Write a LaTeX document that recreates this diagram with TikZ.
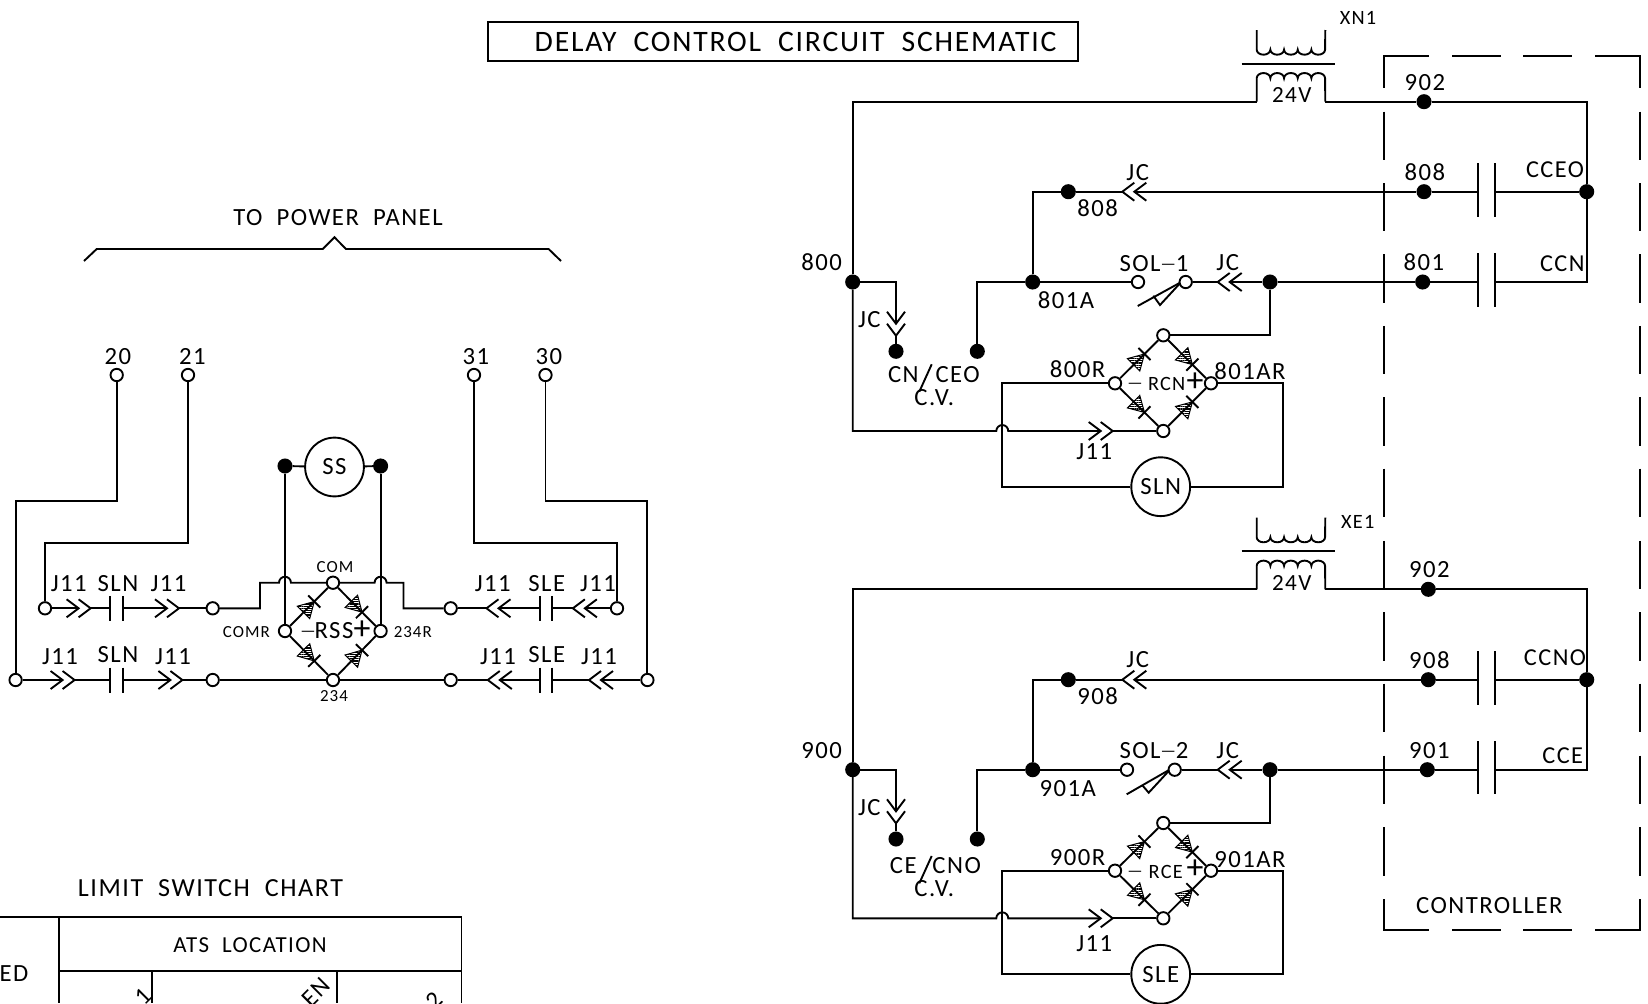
\documentclass[tikz,border=0pt]{standalone}
\usepackage{fontspec}
\usepackage{amsmath}
\setmainfont{Carlito}[LetterSpace=6]
\usetikzlibrary{calc,patterns.meta}

\tikzset{
    lbl/.style={inner sep=0pt, font=\fontsize{12.4}{12.4}\selectfont},
    lblsm/.style={inner sep=0pt, font=\fontsize{10.2}{10.2}\selectfont},
    lblxs/.style={inner sep=0pt, font=\fontsize{8.5}{8.5}\selectfont},
    lblbig/.style={inner sep=0pt, font=\fontsize{14.9}{14.9}\selectfont},
    lblmid/.style={inner sep=0pt, font=\fontsize{11.6}{11.6}\selectfont},
    lblplus/.style={inner sep=0pt, font=\fontsize{17}{17}\selectfont},
    term/.style={circle, draw, fill=white, inner sep=0pt, minimum size=6.2pt},
    junct/.style={circle, draw, fill=black, inner sep=0pt, minimum size=6.6pt},
    meter/.style={circle, draw, inner sep=0pt, minimum size=29.5pt, font=\fontsize{12.4}{12.4}\selectfont},
}

\newcommand{\longdash}{\raisebox{1pt}{\fontsize{8.5}{8.5}\selectfont---}}

% double chevron, tip at the given point
\newcommand{\chevs}[4]{
    \begin{scope}[shift={(#2,#3)}, rotate=#4]
        \draw (-24,-9) -- (-12,0) -- (-24,9);
        \draw (-12,-9) -- (0,0) -- (-12,9);
        \coordinate (#1-in) at (-12,0);
        \coordinate (#1-out) at (0,0);
    \end{scope}
}
% contact bars
\newcommand{\capbars}[6]{
    \coordinate (#1-a) at (#2,#4);
    \coordinate (#1-b) at (#3,#4);
    \draw (#2,#4-#5) -- (#2,#4+#6);
    \draw (#3,#4-#5) -- (#3,#4+#6);
}
% diode on one side of a bridge
\newcommand{\bridgediode}[2]{
    \draw (#1) -- (#2);
    \draw[line width=0.5pt, pattern={Lines[angle=0,distance=1.1pt,line width=0.6pt]}] ($(#1)!0.61!(#2)$) -- ($(#1)!0.385!(#2)!4.4pt!90:(#2)$) -- ($(#1)!0.385!(#2)!4.4pt!-90:(#2)$) -- cycle;
    \draw ($(#1)!0.61!(#2)!4.3pt!90:(#2)$) -- ($(#1)!0.61!(#2)!4.3pt!-90:(#2)$);
}
\newcommand{\bridge}[1]{
    \bridgediode{#1-l}{#1-t}
    \bridgediode{#1-t}{#1-r}
    \bridgediode{#1-l}{#1-b}
    \bridgediode{#1-b}{#1-r}
}
% transformer, left foot of the winding at the given point
\newcommand{\xfmr}[3]{
    \coordinate (#1-a) at (#2,#3);
    \coordinate (#1-b) at (#2+68.6,#3);
    \begin{scope}[shift={(#2,#3)}]
        \draw (0,-71.7) -- (0,-52)
            \foreach \i in {1,...,5} {arc[start angle=180, end angle=360, x radius=3.43pt, y radius=2.5pt]}
            -- (68.6,-71.7);
        \draw (-15,-38) -- (78.4,-38);
        \draw (0,0) -- (0,-23.5)
            \foreach \i in {1,...,5} {arc[start angle=180, end angle=0, x radius=3.43pt, y radius=2.6pt]}
            -- (68.6,0);
    \end{scope}
}

\begin{document}
\begin{tikzpicture}[x=0.5bp, y=-0.5bp, line width=0.95pt]
    \useasboundingbox (0,0) rectangle (1648,1003);

    % title
    \node[draw, minimum width=296.5pt, minimum height=19.5pt, inner sep=0pt] (titlebox) at (783,41.5) {};
    \node[lblbig] (titletext) at (795.6,42) {DELAY\ \ CONTROL\ \ CIRCUIT\ \ SCHEMATIC};

    % power panel
    \node[lbl] (lbpanel) at (338,217.6) {TO\ \ POWER\ \ PANEL};
    \draw (84,261) -- (96.7,249) -- (322.7,249) -- (334.5,237.3) -- (346,249) -- (548.6,249) -- (561,261);
    \node[lbl] (lb20) at (117.8,356.7) {20};
    \node[lbl] (lb21) at (192.5,356.7) {21};
    \node[lbl] (lb31) at (476,356.7) {31};
    \node[lbl] (lb30) at (549,356.7) {30};
    \node[term] (t20) at (116.7,375) {};
    \node[term] (t21) at (188,375) {};
    \node[term] (t31) at (474,375) {};
    \node[term] (t30) at (545.5,375) {};

    % selector terminals
    \node[term] (tl1) at (45,608.3) {};
    \node[term] (tl2) at (15.6,680) {};
    \node[term] (tr1) at (617,608.3) {};
    \node[term] (tr2) at (647.4,680) {};
    \node[term] (tm1) at (212.7,608.3) {};
    \node[term] (tm2) at (450.7,608.3) {};
    \node[term] (tm3) at (212.7,680) {};
    \node[term] (tm4) at (450.7,680) {};
    \coordinate (k20) at (116.7,500.7);
    \coordinate (k21) at (188,542.7);
    \coordinate (k31) at (474,542.7);
    \coordinate (k30) at (545.5,500.7);
    \draw (t20) -- (k20) -| (tl2);
    \draw (t21) -- (k21) -| (tl1);
    \draw (t31) -- (k31) -| (tr1);
    \draw (t30) -- (k30) -| (tr2);

    % RSS bridge
    \node[term] (rss-t) at (333,582.7) {};
    \node[term] (rss-b) at (333,680) {};
    \node[term] (rss-l) at (285,631) {};
    \node[term] (rss-r) at (380.6,631) {};
    \bridge{rss}
    \node[meter] (ss) at (334.5,467) {SS};
    \node[junct] (dss1) at (285,466) {};
    \node[junct] (dss2) at (380.6,466) {};
    \draw (dss1) -- (ss);
    \draw (ss) -- (dss2);
    \draw (dss1) -- (rss-l);
    \draw (dss2) -- (rss-r);

    % upper row
    \chevs{ca}{90.6}{608.3}{0}
    \capbars{c1}{110.4}{123}{608.3}{12.5}{12.5}
    \chevs{cb}{179}{608.3}{0}
    \chevs{cc}{486.5}{608.3}{180}
    \capbars{c2}{540.4}{551.8}{608.3}{12.5}{12.5}
    \chevs{cd}{572.9}{608.3}{180}
    \draw (tl1) -- (ca-in);
    \draw (ca-out) -- (c1-a);
    \draw (c1-b) -- (cb-in);
    \draw (cb-out) -- (tm1);
    \coordinate (hk1) at (260,608.3);
    \coordinate (hk2) at (260,582.7);
    \coordinate (hk3) at (279,582.7);
    \coordinate (hk4) at (374.6,582.7);
    \coordinate (hk5) at (403.5,582.7);
    \coordinate (hk6) at (403.5,608.3);
    \draw (tm1) -- (hk1) -- (hk2) -- (hk3) arc[start angle=180, end angle=0, radius=3pt] -- (rss-t);
    \draw (rss-t) -- (hk4) arc[start angle=180, end angle=0, radius=3pt] -- (hk5) -- (hk6) -- (tm2);
    \draw (tm2) -- (cc-out);
    \draw (cc-in) -- (c2-a);
    \draw (c2-b) -- (cd-out);
    \draw (cd-in) -- (tr1);

    % lower row
    \chevs{ce}{74.6}{680}{0}
    \capbars{c3}{110.4}{123}{680}{12.5}{12.5}
    \chevs{cf}{182.4}{680}{0}
    \chevs{cg}{487.8}{680}{180}
    \capbars{c4}{540.4}{551.8}{680}{12.5}{12.5}
    \chevs{ch}{589}{680}{180}
    \draw (tl2) -- (ce-in);
    \draw (ce-out) -- (c3-a);
    \draw (c3-b) -- (cf-in);
    \draw (cf-out) -- (tm3);
    \draw (tm3) -- (rss-b);
    \draw (rss-b) -- (tm4);
    \draw (tm4) -- (cg-out);
    \draw (cg-in) -- (c4-a);
    \draw (c4-b) -- (ch-out);
    \draw (ch-in) -- (tr2);

    \node[lbl] (lbj1) at (68.7,583.3) {J11};
    \node[lbl] (lbs1) at (118,583.3) {SLN};
    \node[lbl] (lbj2) at (168.5,583.3) {J11};
    \node[lbl] (lbj3) at (492.8,583.3) {J11};
    \node[lbl] (lbs2) at (546.8,583.3) {SLE};
    \node[lbl] (lbj4) at (598,583.3) {J11};
    \node[lbl] (lbj5) at (60,656.7) {J11};
    \node[lbl] (lbs3) at (118,655) {SLN};
    \node[lbl] (lbj6) at (173,656.7) {J11};
    \node[lbl] (lbj7) at (498,656.7) {J11};
    \node[lbl] (lbs4) at (546.8,655) {SLE};
    \node[lbl] (lbj8) at (599,656.7) {J11};
    \node[lblxs] (lbcom) at (335,567.3) {COM};
    \node[lblxs] (lbcomr) at (246.4,631.7) {COMR};
    \node[lblxs] (lb234r) at (412.8,632.3) {234R};
    \node[lblxs] (lb234) at (334,696) {234};
    \node[lblxs] (lbminr) at (308,634) {---};
    \node[lbl] (lbrss) at (334,631) {RSS};
    \node[lblplus] (lbplsr) at (362,630) {+};

    % limit switch chart
    \node[lbl, font=\fontsize{13.1}{13.1}\selectfont] (lblimit) at (210.5,888.3) {LIMIT\ \ SWITCH\ \ CHART};
    \draw (0,917.3) -- (461.5,917.3) -- (461.5,1003);
    \draw (59,917.3) -- (59,1003);
    \draw (59,971) -- (461.5,971);
    \draw (151.7,971) -- (151.7,1003);
    \draw (337.3,971) -- (337.3,1003);
    \node[lbl, font=\fontsize{11.5}{11.5}\selectfont] (lbatsl) at (250,945) {ATS\ \ LOCATION};
    \node[lbl] (lbed) at (14,973.3) {ED};
    \node[lbl, rotate=45] (lbone) at (143.3,996) {1};
    \node[lbl, rotate=45] (lben) at (316,992) {EN};
    \node[lbl, rotate=45] (lbtwo) at (434.3,1000) {2};

    % controller box
    \draw (1384,87.7) -- (1384,56) -- (1429,56);
    \draw (1452,56) -- (1500.7,56);
    \draw (1523,56) -- (1572,56);
    \draw (1595,56) -- (1640,56) -- (1640,87.7);
    \draw (1384,899) -- (1384,930) -- (1429,930);
    \draw (1452,930) -- (1500.7,930);
    \draw (1523,930) -- (1572,930);
    \draw (1595,930) -- (1640,930) -- (1640,899);
    \foreach \yy in {111.7,183,254.4,325.8,397.2,468.6,540.9,612.3,683.7,755.7,827.3} {
        \draw (1384,\yy) -- (1384,\yy+48.3);
        \draw (1640,\yy) -- (1640,\yy+48.3);
    }
    \node[lbl] (lbctrl) at (1489.3,905.7) {CONTROLLER};

    % XN1 block
    \xfmr{xn}{1256.7}{101.7}
    \node[lblsm] (lbxn) at (1358,18.3) {XN1};
    \node[lblmid] (lb24a) at (1291.7,95) {24V};
    \node[lbl] (lb902a) at (1425,82.7) {902};
    \node[lbl] (lb808a) at (1425,172.3) {808};
    \node[lbl] (lb801a) at (1424,262.3) {801};
    \node[lblmid, font=\fontsize{12.2}{12.2}\selectfont] (lbcceo) at (1555,170) {CCEO};
    \node[lblmid, font=\fontsize{12.2}{12.2}\selectfont] (lbccn) at (1562.3,264) {CCN};
    \node[lbl] (lb800) at (821.7,262.3) {800};
    \node[lbl] (lbjca) at (1137.7,172.3) {JC};
    \node[lbl] (lb808b) at (1097.7,208.3) {808};
    \node[lbl] (lb801b) at (1066,300) {801A};
    \node[lbl] (lbsol1) at (1154,263.3) {SOL\longdash1};
    \node[lbl] (lbjcb) at (1227.7,262.7) {JC};
    \node[lbl] (lbjcc) at (869.3,320) {JC};
    \node[lbl] (lbcn) at (903.3,375) {CN};
    \node[lbl] (lbceo) at (957.7,375) {CEO};
    \node[lbl] (lbcva) at (934.3,397.3) {C.V.};
    \draw (931.7,364.3) -- (919.3,391.7);
    \node[lbl] (lb800r) at (1077.7,369) {800R};
    \node[lbl] (lb801ar) at (1250,371) {801AR};
    \node[lblxs] (lbmina) at (1135,386) {---};
    \node[lblsm] (lbrcn) at (1166.7,384.3) {RCN};
    \node[lblplus] (lbplsa) at (1195,382) {+};
    \node[lbl] (lbj11a) at (1094.3,451.7) {J11};

    \node[junct] (d902a) at (1424,101.7) {};
    \node[junct] (d808a) at (1068.3,191.7) {};
    \node[junct] (d808b) at (1424,191.7) {};
    \node[junct] (d808c) at (1586.7,191.7) {};
    \node[junct] (d800) at (852.7,282) {};
    \node[junct] (d801a) at (1032.7,282) {};
    \node[junct] (d801b) at (1270,282) {};
    \node[junct] (d801c) at (1422.7,282) {};
    \node[junct] (dcva) at (896,351.3) {};
    \node[junct] (dcvb) at (977.3,351.3) {};
    \node[term] (sol1a) at (1138,282) {};
    \node[term] (sol1b) at (1185.7,282) {};
    \node[term] (rcn-t) at (1163.3,335.3) {};
    \node[term] (rcn-b) at (1163.3,431) {};
    \node[term] (rcn-l) at (1115,383.3) {};
    \node[term] (rcn-r) at (1211,383.3) {};
    \node[meter] (sln) at (1160.7,486.7) {SLN};
    \bridge{rcn}
    \chevs{cja}{1122.3}{191.7}{180}
    \chevs{cjb}{1217.7}{282}{180}
    \chevs{cjc}{896}{335.7}{-90}
    \chevs{cjd}{1112.7}{431}{0}
    \capbars{c5}{1477.7}{1495}{191.7}{28.4}{25}
    \capbars{c6}{1477.7}{1495}{282}{28.7}{24.7}
    \coordinate (bn1) at (852.7,101.7);
    \coordinate (bn2) at (1586.7,101.7);
    \coordinate (bn3) at (1586.7,282);
    \coordinate (bn4) at (852.7,431);
    \coordinate (bn5) at (996.3,431);
    \coordinate (bn6) at (1002.3,383.3);
    \coordinate (bn7) at (1002.3,486.7);
    \coordinate (bn8) at (1282.7,486.7);
    \coordinate (bn9) at (1282.7,383.3);
    \draw (xn-b) -- (d902a);
    \draw (d902a) -- (bn2) -- (d808c);
    \draw (d808c) -- (bn3) -- (c6-b);
    \draw (xn-a) -- (bn1) -- (d800);
    \draw (d800) -- (bn4) -- (bn5) arc[start angle=180, end angle=0, radius=3pt] -- (cjd-in);
    \draw (cjd-out) -- (rcn-b);
    \draw (d800) -| (cjc-in);
    \draw (cjc-out) -- (dcva);
    \draw (dcvb) |- (d801a);
    \draw (d801a) |- (d808a);
    \draw (d808a) -- (cja-out);
    \draw (cja-in) -- (d808b);
    \draw (d808b) -- (c5-a);
    \draw (c5-b) -- (d808c);
    \draw (d801a) -- (sol1a);
    \draw (sol1b) -- (cjb-out);
    \draw (cjb-in) -- (d801b);
    \draw (d801b) -- (d801c);
    \draw (d801c) -- (c6-a);
    \draw (d801b) |- (rcn-t);
    \draw (rcn-l) -- (bn6) -- (bn7) -- (sln);
    \draw (sln) -- (bn8) -- (bn9) -- (rcn-r);
    \draw (1137.7,306) -- (1180,282.7);
    \draw (1153.3,295.7) -- (1160,305) -- (1180,283.3);

    % XE1 block
    \xfmr{xe}{1256.7}{589.3}
    \node[lblsm] (lbxe) at (1357.7,521.7) {XE1};
    \node[lblmid] (lb24b) at (1291.7,582.7) {24V};
    \node[lbl] (lb902b) at (1429.3,570) {902};
    \node[lbl] (lb908a) at (1429.3,660) {908};
    \node[lbl] (lb901a) at (1429.3,750.7) {901};
    \node[lblmid, font=\fontsize{12.2}{12.2}\selectfont] (lbccno) at (1555,658) {CCNO};
    \node[lblmid, font=\fontsize{12.2}{12.2}\selectfont] (lbcce) at (1562.7,756) {CCE};
    \node[lbl] (lb900) at (821.7,750.7) {900};
    \node[lbl] (lbjce) at (1137.7,660) {JC};
    \node[lbl] (lb908b) at (1097.7,695.7) {908};
    \node[lbl] (lb901b) at (1067.7,788.3) {901A};
    \node[lbl] (lbsol2) at (1154,751) {SOL\longdash2};
    \node[lbl] (lbjcf) at (1227.7,751) {JC};
    \node[lbl] (lbjcg) at (869.3,807.7) {JC};
    \node[lbl] (lbce) at (903.3,866) {CE};
    \node[lbl] (lbcno) at (956.7,866) {CNO};
    \node[lbl] (lbcvb) at (934.3,889) {C.V.};
    \draw (931.7,856) -- (919.3,883.3);
    \node[lbl] (lb900r) at (1077.7,857.3) {900R};
    \node[lbl] (lb901ar) at (1250,859.3) {901AR};
    \node[lblxs] (lbminb) at (1135,873.5) {---};
    \node[lblsm] (lbrce) at (1165.7,872.3) {RCE};
    \node[lblplus] (lbplsb) at (1195,869) {+};
    \node[lbl] (lbj11b) at (1094.3,943.3) {J11};

    \node[junct] (d902b) at (1428.3,589.3) {};
    \node[junct] (d908a) at (1068.3,679.7) {};
    \node[junct] (d908b) at (1428.3,679.7) {};
    \node[junct] (d908c) at (1586.7,679.7) {};
    \node[junct] (d900) at (852.7,769.7) {};
    \node[junct] (d901a) at (1032.7,769.7) {};
    \node[junct] (d901b) at (1270,769.7) {};
    \node[junct] (d901c) at (1427.3,769.7) {};
    \node[junct] (dcvc) at (896,839) {};
    \node[junct] (dcvd) at (977.3,839) {};
    \node[term] (sol2a) at (1127,769.7) {};
    \node[term] (sol2b) at (1174.7,769.7) {};
    \node[term] (rce-t) at (1163.3,823) {};
    \node[term] (rce-b) at (1163.3,918.3) {};
    \node[term] (rce-l) at (1115,870.7) {};
    \node[term] (rce-r) at (1211,870.7) {};
    \node[meter] (sle) at (1160.7,974.3) {SLE};
    \bridge{rce}
    \chevs{cka}{1122.3}{679.7}{180}
    \chevs{ckb}{1217.7}{769.7}{180}
    \chevs{ckc}{896}{823.3}{-90}
    \chevs{ckd}{1112.7}{918.3}{0}
    \capbars{c7}{1477.7}{1495}{679.7}{28.4}{25}
    \capbars{c8}{1477.7}{1495}{769.7}{28.7}{24.7}
    \coordinate (be1) at (852.7,589.3);
    \coordinate (be2) at (1586.7,589.3);
    \coordinate (be3) at (1586.7,769.7);
    \coordinate (be4) at (852.7,918.3);
    \coordinate (be5) at (996.3,918.3);
    \coordinate (be6) at (1002.3,870.7);
    \coordinate (be7) at (1002.3,974.3);
    \coordinate (be8) at (1282.7,974.3);
    \coordinate (be9) at (1282.7,870.7);
    \draw (xe-b) -- (d902b);
    \draw (d902b) -- (be2) -- (d908c);
    \draw (d908c) -- (be3) -- (c8-b);
    \draw (xe-a) -- (be1) -- (d900);
    \draw (d900) -- (be4) -- (be5) arc[start angle=180, end angle=0, radius=3pt] -- (ckd-in);
    \draw (ckd-out) -- (rce-b);
    \draw (d900) -| (ckc-in);
    \draw (ckc-out) -- (dcvc);
    \draw (dcvd) |- (d901a);
    \draw (d901a) |- (d908a);
    \draw (d908a) -- (cka-out);
    \draw (cka-in) -- (d908b);
    \draw (d908b) -- (c7-a);
    \draw (c7-b) -- (d908c);
    \draw (d901a) -- (sol2a);
    \draw (sol2b) -- (ckb-out);
    \draw (ckb-in) -- (d901b);
    \draw (d901b) -- (d901c);
    \draw (d901c) -- (c8-a);
    \draw (d901b) |- (rce-t);
    \draw (rce-l) -- (be6) -- (be7) -- (sle);
    \draw (sle) -- (be8) -- (be9) -- (rce-r);
    \draw (1126.7,794.3) -- (1169,770);
    \draw (1142.7,785.7) -- (1148.7,792.7) -- (1169,770.7);
\end{tikzpicture}
\end{document}
